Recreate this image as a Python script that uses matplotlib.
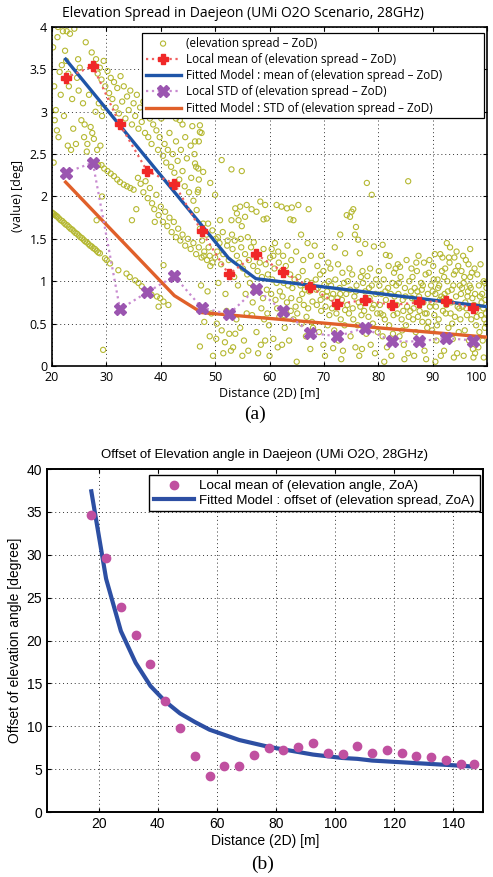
import matplotlib
matplotlib.use("Agg")
import matplotlib.pyplot as plt
import numpy as np

# ---------------- DATA (a) ----------------
zod_dist = [
    # left scatter 20-30
    20.2,20.4,20.5,20.7,20.9,21.0,21.2,21.4,21.6,21.8,22.0,22.2,22.4,22.6,22.9,23.1,23.3,23.5,23.7,23.9,
    24.1,24.4,24.6,24.9,25.1,25.4,25.7,25.9,26.2,26.5,26.8,27.1,27.4,27.7,28.0,28.3,28.6,28.9,29.2,29.5,
    21.1,22.7,23.0,24.8,26.0,20.3,26.4,
    # upper dense band 27-47
    27.3,27.8,28.1,28.4,28.8,29.1,29.5,29.8,30.2,30.5,30.8,31.1,31.4,31.7,32.0,32.3,32.6,32.9,
    33.2,33.5,33.8,34.1,34.4,34.7,35.0,35.3,35.6,35.9,36.2,36.5,36.8,37.1,37.4,37.7,38.0,38.3,38.6,38.9,
    39.2,39.5,39.8,40.1,40.4,40.7,41.0,41.3,41.6,41.9,42.2,42.5,42.8,43.1,43.4,43.7,44.0,44.4,44.8,45.2,
    45.6,46.0,46.5,47.0,44.5,45.5,46.2,47.0,46.8,44.0,42.8,43.5,45.8,47.2,
    # middle line 28-50
    28.0,28.5,29.1,29.6,30.2,30.8,31.4,32.0,32.5,33.2,33.8,34.4,35.0,
    35.8,36.3,36.8,37.2,37.6,38.0,38.4,38.8,39.2,39.6,40.0,40.4,40.8,41.2,41.6,42.0,42.4,42.8,43.2,43.6,
    44.0,44.5,45.0,45.5,46.0,46.5,47.0,47.5,48.0,48.5,49.0,49.5,50.0,28.2,29.2,34.7,35.5,38.9,40.5,
    # lower line 20-42
    20.0,20.2,20.4,20.6,20.8,21.0,21.3,21.6,21.9,22.2,22.5,22.8,23.1,23.4,23.7,24.0,24.3,24.6,24.9,25.2,
    25.5,25.8,26.1,26.4,26.7,27.0,27.3,27.6,27.9,28.2,28.5,28.8,
    29.75,30.05,30.67,32.2,33.7,34.3,35.3,35.9,36.5,37.4,38.3,39.3,39.9,40.5,41.4,39.6,29.4,
    # sparse 46-68 high
    47.2,47.5,46.3,46.3,46.9,47.8,51.2,53.0,54.9,49.1,46.9,50.0,46.6,
    53.7,54.6,55.8,56.7,57.6,58.3,59.2,61.3,62.2,63.2,64.1,65.3,67.2,54.0,53.0,54.3,55.5,50.9,54.9,
    58.9,59.5,63.8,64.4,48.7,
    # cloud 47-100
    47.2,47.6,47.9,47.4,48.0,47.2,48.4,48.8,49.1,48.6,49.3,49.0,49.6,
    50.1,50.4,50.8,51.1,51.5,50.6,51.9,50.3,51.2,51.8,52.2,52.5,52.8,52.1,52.9,52.6,
    53.2,53.6,54.0,54.4,54.8,53.5,54.2,55.1,55.5,55.9,53.9,54.6,55.3,55.8,53.3,
    56.2,56.6,57.0,57.4,57.8,58.2,58.6,56.4,57.2,58.0,58.8,56.8,57.6,58.4,59.0,56.1,
    59.3,59.7,60.1,60.5,60.9,61.3,61.7,59.5,60.3,61.1,61.9,59.9,60.7,61.5,61.8,60.0,
    62.2,62.6,63.0,63.4,63.8,64.2,64.6,62.4,63.2,64.0,64.8,62.8,63.6,64.4,65.0,62.3,
    65.3,65.7,66.1,66.5,66.9,67.3,67.7,65.5,66.3,67.1,67.9,65.9,66.7,67.5,68.0,65.8,67.0,68.3,
    68.5,68.9,69.3,69.7,70.1,70.5,70.9,68.7,69.5,70.3,71.0,69.1,69.9,70.7,69.5,70.8,70.2,
    71.3,71.7,72.1,72.5,72.9,73.3,73.7,71.5,72.3,73.1,73.9,71.9,72.7,73.5,71.7,72.0,73.0,73.9,
    74.2,74.8,75.1,75.4,75.9,75.7,76.3,76.6,74.4,74.8,75.2,75.6,76.0,76.4,76.8,74.6,75.4,76.2,76.9,
    74.9,75.8,76.5,74.3,
    77.9,78.8,77.6,79.2,77.2,77.6,78.0,78.4,78.8,79.2,79.6,77.4,78.2,79.0,79.8,77.8,78.6,79.4,78.5,77.3,
    80.8,81.4,82.1,80.2,80.6,81.0,81.4,81.8,82.2,82.6,80.4,81.2,82.0,82.8,80.8,81.6,82.4,83.0,80.1,82.9,
    84.0,85.5,83.3,83.7,84.1,84.5,84.9,85.3,85.7,83.5,84.3,85.1,85.9,83.9,84.7,85.5,83.2,86.0,84.4,
    86.3,86.7,87.1,87.5,87.9,88.3,88.7,86.5,87.3,88.1,88.9,86.9,87.7,88.5,86.2,88.0,89.0,87.0,
    89.3,89.7,90.1,90.5,90.9,91.3,91.7,89.5,90.3,91.1,91.9,89.9,90.7,91.5,91.4,90.0,91.0,89.2,92.0,
    92.3,92.7,93.1,93.5,93.9,94.3,94.7,92.5,93.3,94.1,94.9,92.9,93.7,94.5,93.2,94.0,92.2,95.0,93.6,94.8,
    95.3,95.7,96.1,96.5,96.9,97.3,97.7,95.5,96.3,97.1,97.9,95.9,96.7,97.5,95.2,96.0,97.0,98.0,96.6,97.4,
    98.2,98.5,98.8,99.1,99.4,99.7,99.9,98.3,98.9,99.5,98.6,99.2,99.8,98.4,99.0,99.6,
]
zod_spread = [
    3.76,3.30,2.90,3.02,2.78,3.88,2.70,3.47,3.20,3.55,3.95,2.95,3.72,3.60,2.60,3.30,3.92,2.55,3.15,2.80,
    3.98,2.62,3.40,3.25,3.52,2.90,3.10,2.70,3.82,2.62,3.20,2.82,2.75,2.68,3.00,2.55,3.10,2.60,2.95,3.05,
    4.00,3.95,3.45,3.62,2.85,2.40,2.53,
    3.70,3.55,3.62,3.45,3.52,3.38,3.60,3.30,3.48,3.22,3.40,3.15,3.35,3.05,3.28,2.98,3.42,3.12,
    3.30,2.92,3.18,3.02,3.25,2.85,3.10,2.95,3.20,2.80,3.05,2.88,3.12,2.75,2.98,2.70,2.92,2.62,2.85,3.05,
    2.78,2.55,2.70,2.92,2.48,2.62,2.40,2.55,2.75,2.35,2.50,2.28,2.65,2.42,2.20,2.55,2.30,2.12,2.45,2.05,
    2.22,1.95,2.35,2.65,2.70,2.60,2.50,2.20,2.05,2.85,2.92,2.90,2.83,2.76,
    2.40,2.37,2.37,2.33,2.30,2.27,2.24,2.20,2.17,2.14,2.12,2.10,2.08,
    2.22,2.15,2.05,2.18,1.98,2.10,1.92,1.85,2.02,1.78,1.88,1.70,1.82,1.65,1.75,1.58,1.70,1.52,1.62,1.48,
    1.55,1.42,1.50,1.38,1.45,1.32,1.40,1.28,1.35,1.25,1.30,1.22,1.28,1.72,2.00,1.72,1.85,1.70,1.19,
    1.81,1.80,1.79,1.78,1.77,1.76,1.74,1.72,1.71,1.69,1.67,1.66,1.64,1.62,1.61,1.59,1.57,1.56,1.54,1.52,
    1.51,1.49,1.47,1.46,1.44,1.42,1.41,1.39,1.38,1.36,1.34,1.33,
    1.27,1.25,1.21,1.13,1.09,1.05,1.01,0.98,0.94,0.88,0.84,0.82,0.80,0.76,0.72,0.70,0.19,
    2.84,2.75,2.65,2.39,2.33,2.29,2.43,2.32,2.30,2.16,2.08,2.02,1.84,
    1.86,1.88,1.90,1.85,1.82,1.94,1.90,1.90,1.88,1.86,1.87,1.90,1.85,1.80,1.72,1.72,1.76,1.72,1.65,
    1.73,1.74,1.73,1.72,1.68,
    1.62,1.48,1.30,0.95,0.52,0.23,1.55,1.40,1.18,0.88,0.62,0.35,0.12,
    1.50,1.35,1.45,1.20,1.32,0.98,0.85,0.50,0.42,0.28,1.42,1.25,1.10,0.65,0.18,0.38,
    1.38,1.48,1.30,1.22,1.40,1.05,0.95,1.15,1.32,1.08,0.55,0.45,0.30,0.62,0.22,
    1.25,1.40,1.18,1.30,1.12,1.22,1.05,0.98,0.88,0.92,0.80,0.60,0.40,0.25,0.55,0.18,
    1.20,1.08,1.28,1.02,1.15,0.98,1.22,0.90,0.85,0.78,0.88,0.48,0.32,0.22,0.58,0.12,
    1.12,0.98,1.18,0.95,1.08,0.92,1.02,0.82,0.75,0.80,0.70,0.45,0.30,0.55,0.05,0.25,
    1.05,0.95,1.12,0.90,1.00,0.88,0.98,0.78,0.72,0.68,0.76,0.50,0.35,0.20,0.45,1.55,1.45,1.42,
    1.02,0.92,1.08,0.85,0.96,0.82,1.00,0.72,0.65,0.70,0.60,0.40,0.25,0.48,1.30,1.22,0.12,
    0.95,0.85,1.02,0.80,0.92,0.78,0.98,0.68,0.62,0.55,0.66,0.42,0.30,0.18,0.21,1.40,1.55,1.33,
    1.78,1.76,1.82,1.85,1.64,1.55,1.49,1.33,1.00,0.90,1.08,0.82,0.95,0.75,1.05,0.62,0.55,0.48,0.60,
    0.35,0.22,0.12,0.72,
    2.16,2.02,1.44,1.41,0.98,0.88,1.06,0.80,0.95,0.72,1.02,0.65,0.58,0.50,0.62,0.38,0.25,0.15,1.15,0.45,
    1.43,1.31,1.30,0.95,0.85,1.02,0.78,0.92,0.70,0.98,0.62,0.55,0.48,0.60,0.35,0.22,0.12,0.82,1.12,1.10,
    1.17,2.18,0.95,0.85,1.05,0.78,0.92,0.70,1.00,0.62,0.55,0.48,0.65,0.35,0.25,0.15,1.15,0.88,0.42,
    1.05,0.92,1.12,0.82,0.98,0.75,1.08,0.68,0.58,0.52,0.62,0.40,0.28,0.18,0.80,0.90,0.45,1.22,
    1.10,0.95,1.18,0.85,1.02,0.78,1.12,0.70,0.60,0.55,0.65,0.42,0.30,0.12,1.32,0.88,0.92,0.52,0.80,
    1.15,1.00,1.22,0.90,1.08,0.82,1.18,0.72,0.62,0.58,0.68,0.45,0.32,0.15,1.40,1.28,0.85,0.95,0.50,0.40,
    1.12,0.98,1.25,0.88,1.05,0.80,1.15,0.70,0.60,0.55,0.65,0.42,0.30,0.10,0.85,0.75,0.92,0.48,1.20,0.20,
    1.08,0.95,1.20,0.85,1.00,0.78,0.92,0.70,0.60,0.55,0.40,0.30,0.62,0.22,0.75,0.45,
]
# additional points of the dense cloud (right part)
zod_dist_extra = [
    60.4,61.0,61.6,62.5,63.3,64.0,64.9,66.2,67.6,68.8,69.9,71.2,72.6,73.4,
    65.1,66.0,66.8,67.8,68.6,69.4,70.6,71.4,72.2,73.0,73.8,
    74.1,74.7,75.3,75.9,76.7,77.1,77.9,78.3,78.9,79.5,79.9,
    80.3,80.9,81.3,81.9,82.3,82.7,83.4,83.8,84.6,85.0,85.6,86.1,
    86.4,86.8,87.2,87.6,88.2,88.6,89.1,89.4,89.8,90.2,90.6,90.8,
    91.2,91.6,92.1,92.4,92.8,93.0,93.4,93.8,94.2,94.6,95.1,95.4,
    95.8,96.2,96.4,96.8,97.2,97.6,97.8,98.1,98.7,99.3,99.6,99.9,
    94.4,95.6,96.9,91.8,90.4,88.4,85.2,83.6,87.4,92.6,
    84.8,86.6,88.8,90.5,92.1,93.9,95.7,97.8,99.4,81.1,77.0,73.2,
    50.5,51.4,52.3,53.1,54.7,56.0,57.1,58.9,60.7,47.8,49.5,
    55.6,56.9,58.5,59.6,61.4,62.7,63.9,57.9,55.0,51.5,50.2,53.7,59.2,
]
zod_spread_extra = [
    1.38,1.45,1.35,1.30,1.42,1.25,1.35,1.25,1.30,1.18,1.12,1.15,1.20,1.10,
    0.62,0.85,0.58,0.52,0.90,0.78,0.88,0.80,0.72,0.85,0.48,
    0.85,1.15,0.68,0.88,0.70,1.12,0.78,0.92,0.68,0.85,0.40,
    0.72,0.60,0.88,1.18,0.85,0.38,0.72,0.98,0.65,0.82,0.58,1.15,
    0.55,0.78,0.88,0.65,0.95,0.62,0.85,1.25,0.75,1.02,0.70,0.48,
    0.95,0.82,1.05,0.62,0.88,1.28,0.75,0.95,1.12,0.70,0.55,0.92,
    1.05,0.68,0.82,0.95,1.10,0.72,0.85,0.58,0.82,0.68,0.98,0.50,
    1.35,1.30,1.38,1.28,1.32,1.22,1.25,1.20,1.30,1.45,
    0.08,0.12,0.08,0.05,0.18,0.10,0.12,0.15,0.10,0.05,0.20,0.08,
    1.52,1.58,1.48,1.55,1.50,1.52,1.46,1.38,1.30,1.68,1.60,
    0.85,0.75,0.68,0.62,0.68,0.60,0.65,0.15,0.12,0.15,0.32,0.38,0.30,
]

bin_centers = [22.5, 27.5, 32.5, 37.5, 42.5, 47.5, 52.5, 57.5, 62.5, 67.5, 72.5, 77.5, 82.5, 87.5, 92.5, 97.5]
local_mean = [3.40, 3.54, 2.85, 2.30, 2.15, 1.59, 1.08, 1.32, 1.11, 0.93, 0.73, 0.78, 0.72, 0.75, 0.77, 0.68]
local_std = [2.28, 2.40, 0.67, 0.87, 1.06, 0.69, 0.61, 0.91, 0.65, 0.39, 0.35, 0.45, 0.29, 0.29, 0.33, 0.30]

fit_mean_d = [22.5, 52.5, 57.5, 100.0]
fit_mean_v = [3.62, 1.27, 1.03, 0.70]
fit_std_d = [22.5, 42.5, 47.5, 100.0]
fit_std_v = [2.17, 0.83, 0.63, 0.34]

# ---------------- DATA (b) ----------------
zoa_dist = [17.5, 22.5, 27.5, 32.5, 37.5, 42.5, 47.5, 52.5, 57.5, 62.5, 67.5, 72.5, 77.5, 82.5,
            87.5, 92.5, 97.5, 102.5, 107.5, 112.5, 117.5, 122.5, 127.5, 132.5, 137.5, 142.5, 147.0]
zoa_mean = [34.6, 29.6, 23.9, 20.7, 17.3, 12.9, 9.8, 6.5, 4.2, 5.4, 5.4, 6.6, 7.5, 7.2,
            7.6, 8.1, 6.9, 6.8, 7.7, 6.9, 7.2, 6.9, 6.5, 6.4, 6.1, 5.6, 5.6]
fit_off_d = [17.5, 22.5, 27.5, 32.5, 37.5, 42.5, 47.5, 52.5, 57.5, 62.5, 67.5, 72.5, 77.5, 82.5,
             87.5, 92.5, 97.5, 102.5, 107.5, 112.5, 117.5, 122.5, 127.5, 132.5, 137.5, 142.5, 146.5]
fit_off_v = [37.4, 27.2, 21.1, 17.4, 14.7, 12.9, 11.5, 10.5, 9.6, 9.0, 8.4, 8.0, 7.6, 7.3,
             7.0, 6.7, 6.5, 6.3, 6.2, 6.0, 5.9, 5.8, 5.7, 5.6, 5.5, 5.4, 5.3]

# ---------------- FIGURE ----------------
fig = plt.figure(figsize=(4.93, 8.77), dpi=100)
topfont = ['Open Sans', 'DejaVu Sans']
botfont = ['Liberation Sans', 'DejaVu Sans']

ax1 = fig.add_axes([0.1055, 0.5827, 0.8824, 0.3865])
ax1.scatter(zod_dist + zod_dist_extra, zod_spread + zod_spread_extra, s=14, facecolors='none',
            edgecolors='#b5b832', linewidths=0.8,
            label='(elevation spread \u2013 ZoD)', zorder=2)
ax1.plot(bin_centers, local_mean, linestyle=':', color='#f06060', lw=1.6, marker='P', ms=7,
         mfc='#f02828', mec='#f02828', label='Local mean of (elevation spread \u2013 ZoD)', zorder=4)
ax1.plot(fit_mean_d, fit_mean_v, color='#1f55a8', lw=2.4,
         label='Fitted Model : mean of (elevation spread \u2013 ZoD)', zorder=3)
ax1.plot(bin_centers, local_std, linestyle=':', color='#c88ad0', lw=1.6, marker='X', ms=8,
         mfc='#9b55b0', mec='#9b55b0', label='Local STD of (elevation spread \u2013 ZoD)', zorder=4)
ax1.plot(fit_std_d, fit_std_v, color='#e0602a', lw=2.4,
         label='Fitted Model : STD of (elevation spread \u2013 ZoD)', zorder=3)
ax1.set_xlim(20, 100)
ax1.set_ylim(0, 4)
ax1.set_xticks(range(20, 101, 10))
ax1.set_yticks([0, 0.5, 1, 1.5, 2, 2.5, 3, 3.5, 4])
ax1.set_yticklabels(['0', '0.5', '1', '1.5', '2', '2.5', '3', '3.5', '4'])
ax1.grid(True, linestyle=(0, (1, 3)), color='#333333', lw=0.7)
ax1.tick_params(direction='in', labelsize=9, top=True, right=True, length=3)
for lab in ax1.get_xticklabels() + ax1.get_yticklabels():
    lab.set_family(topfont)
xl = ax1.get_xticklabels()
xl[-1].set_horizontalalignment('right')
for sp in ax1.spines.values():
    sp.set_linewidth(1.2)
ax1.set_title('Elevation Spread in Daejeon (UMi O2O Scenario, 28GHz)', fontsize=10, family=topfont,
              pad=7, x=0.44)
ax1.set_xlabel('Distance (2D) [m]', fontsize=9, family=topfont, labelpad=2)
ax1.set_ylabel('(value) [deg]', fontsize=9, family=topfont, labelpad=4)
leg1 = ax1.legend(loc='upper left', bbox_to_anchor=(0.207, 0.5, 0.786, 0.482), mode='expand',
                  borderaxespad=0, frameon=True, fancybox=False, edgecolor='black', framealpha=1,
                  borderpad=0.3, labelspacing=0.28, handlelength=3.0, handletextpad=0.5,
                  prop={'family': topfont, 'size': 8.4})
leg1.get_frame().set_linewidth(0.9)
fig.text(0.517, 0.527, '(a)', ha='center', va='center', fontsize=14, family='Liberation Serif')

ax2 = fig.add_axes([0.0953, 0.0741, 0.8844, 0.3911])
ax2.plot(zoa_dist, zoa_mean, linestyle='none', marker='o', ms=6, color='#c050a0',
         label='Local mean of (elevation angle, ZoA)', zorder=3)
ax2.plot(fit_off_d, fit_off_v, color='#2d4fa3', lw=3,
         label='Fitted Model : offset of (elevation spread, ZoA)', zorder=2)
ax2.set_xlim(2.5, 150)
ax2.set_ylim(0, 40)
ax2.set_xticks(range(20, 141, 20))
ax2.set_yticks(range(0, 41, 5))
ax2.grid(True, linestyle=(0, (1, 3)), color='#333333', lw=0.7)
ax2.tick_params(direction='in', labelsize=10, top=True, right=True, length=3)
for lab in ax2.get_xticklabels() + ax2.get_yticklabels():
    lab.set_family(botfont)
for sp in ax2.spines.values():
    sp.set_linewidth(1.4)
ax2.set_title('Offset of Elevation angle in Daejeon (UMi O2O, 28GHz)', fontsize=9.5, family=botfont, pad=8)
ax2.set_xlabel('Distance (2D) [m]', fontsize=10, family=botfont, labelpad=2)
ax2.set_ylabel('Offset of elevation angle [degree]', fontsize=10, family=botfont, labelpad=3)
leg2 = ax2.legend(loc='upper right', bbox_to_anchor=(0.992, 0.982), borderaxespad=0, frameon=True,
                  fancybox=False, edgecolor='black', framealpha=1, borderpad=0.35, labelspacing=0.15,
                  handlelength=3.0, handletextpad=0.4, prop={'family': botfont, 'size': 9.6})
leg2.get_frame().set_linewidth(1.0)
fig.text(0.532, 0.015, '(b)', ha='center', va='center', fontsize=14, family='Liberation Serif')

fig.savefig('out.png', dpi=100)
